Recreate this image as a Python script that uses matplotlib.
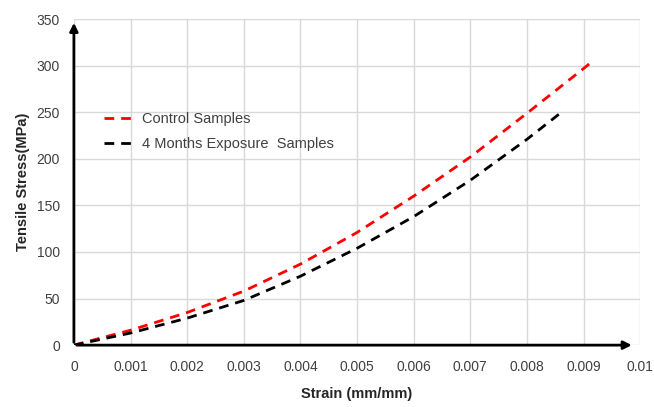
import matplotlib
matplotlib.use("Agg")
import matplotlib.pyplot as plt

strain_control = [0, 0.001, 0.002, 0.003, 0.004, 0.005, 0.006, 0.007, 0.008, 0.009, 0.00912]
stress_control = [0, 16, 35, 58, 87, 121, 160, 202, 249, 297, 303]
strain_exposure = [0, 0.001, 0.002, 0.003, 0.004, 0.005, 0.006, 0.007, 0.008, 0.00865]
stress_exposure = [0, 13, 29, 48, 74, 104, 138, 177, 221, 252]
series_labels = ["Control Samples", "4 Months Exposure  Samples"]
x_ticks = [0, 0.001, 0.002, 0.003, 0.004, 0.005, 0.006, 0.007, 0.008, 0.009, 0.01]
x_tick_labels = ["0", "0.001", "0.002", "0.003", "0.004", "0.005", "0.006", "0.007", "0.008", "0.009", "0.01"]
y_ticks = [0, 50, 100, 150, 200, 250, 300, 350]

plt.rcParams['font.family'] = ['Liberation Sans', 'DejaVu Sans']

fig = plt.figure(figsize=(6.54, 4.07), dpi=100)
ax = fig.add_axes([0.113, 0.152, 0.866, 0.801])

ax.plot(strain_control, stress_control, color='#ff0000', lw=2, dashes=(3.5, 2.5), label=series_labels[0])
ax.plot(strain_exposure, stress_exposure, color='black', lw=2, dashes=(3.5, 2.5), label=series_labels[1])

ax.set_xlim(0, 0.01)
ax.set_ylim(0, 350)
ax.set_xticks(x_ticks)
ax.set_xticklabels(x_tick_labels)
ax.set_yticks(y_ticks)
ax.grid(True, color='#d9d9d9', lw=1)
ax.set_axisbelow(True)
for s in ['top', 'right', 'left', 'bottom']:
    ax.spines[s].set_visible(False)
ax.tick_params(length=0, labelsize=10, colors='#404040')
ax.tick_params(axis='x', pad=11)
ax.tick_params(axis='y', pad=10)

# axis arrows
ax.annotate('', xy=(0.0099, 0), xytext=(0, 0), xycoords='data',
            arrowprops=dict(arrowstyle='-|>', color='black', lw=2, mutation_scale=12),
            annotation_clip=False)
ax.annotate('', xy=(0, 349), xytext=(0, 0), xycoords='data',
            arrowprops=dict(arrowstyle='-|>', color='black', lw=2, mutation_scale=12),
            annotation_clip=False)

ax.set_xlabel('Strain (mm/mm)', fontsize=10.5, fontweight='bold', color='#262626', labelpad=9)
ax.set_ylabel('Tensile Stress(MPa)', fontsize=10.5, fontweight='bold', color='#262626', labelpad=5)

leg = ax.legend(loc='upper left', bbox_to_anchor=(0.03, 0.755), frameon=False, fontsize=10.5,
                handlelength=2.0, handletextpad=0.6, labelspacing=0.75)
for t in leg.get_texts():
    t.set_color('#404040')

fig.savefig('out.png', dpi=100)
